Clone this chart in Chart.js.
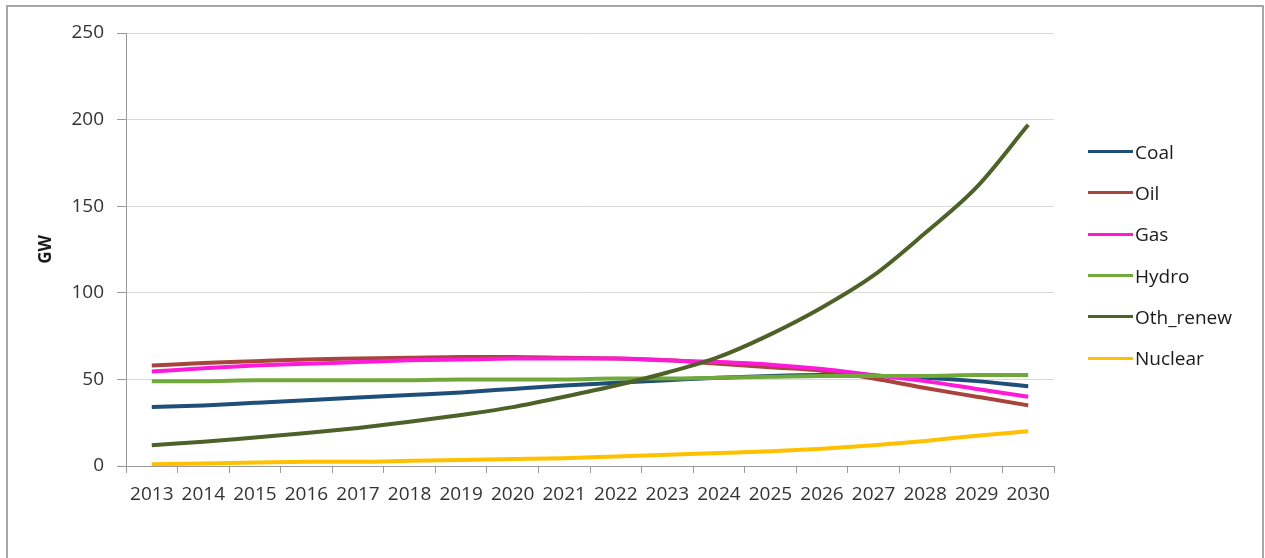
<!DOCTYPE html>
<html lang="en">
  <head>
    <meta charset="UTF-8">
    <title>GW by source</title>
    <script src="https://cdn.jsdelivr.net/npm/chart.js"></script>
    <style>
      body {
        margin: 0;
        background-color: #ffffff;
        font-family: "Open Sans", sans-serif;
        overflow: hidden;
      }
      #frame {
        position: absolute;
        left: 6px;
        top: 5px;
        width: 1254px;
        height: 570px;
        border: 2px solid #a6a6a6;
      }
      #chart {
        position: absolute;
        left: 0;
        top: 0;
      }
      #legend {
        position: absolute;
        left: 1088px;
        top: 131px;
      }
      .item {
        display: flex;
        align-items: center;
        height: 41.3px;
        font-size: 19px;
        color: #1a1a1a;
      }
      .swatch {
        width: 45px;
        height: 3px;
        margin-right: 2px;
      }
    </style>
  </head>
  <body>
    <div id="frame"></div>
    <canvas id="chart" width="1265" height="558"></canvas>
    <div id="legend"></div>

    <script>
      const years = ["2013", "2014", "2015", "2016", "2017", "2018", "2019", "2020", "2021",
        "2022", "2023", "2024", "2025", "2026", "2027", "2028", "2029", "2030"];

      const coal = [34, 35, 36.5, 38, 39.5, 41, 42.5, 44.5, 46.5, 48, 49.5, 51, 52, 52.5, 52, 51, 49, 46];
      const oil = [58, 59.5, 60.5, 61.5, 62, 62.5, 63, 63, 62.5, 62, 61, 59, 57, 55, 50.5, 45, 40, 35];
      const gas = [54.5, 56.5, 58, 59, 60, 61, 61.5, 62, 62, 62, 61, 60, 58.5, 56, 52.5, 49, 44.5, 40];
      const hydro = [49, 49, 49.5, 49.5, 49.5, 49.5, 50, 50, 50, 50.5, 50.5, 51, 51.5, 52, 52, 52, 52.5, 52.5];
      const othRenew = [12, 14, 16.5, 19, 22, 25.5, 29.5, 34, 40, 46.5, 54, 63, 76, 91.5, 110, 134.5, 161, 197];
      const nuclear = [1, 1.5, 2, 2.5, 2.5, 3, 3.5, 4, 4.5, 5.5, 6.5, 7.5, 8.5, 10, 12, 14.5, 17.5, 20];

      const seriesNames = ["Coal", "Oil", "Gas", "Hydro", "Oth_renew", "Nuclear"];
      const seriesData = [coal, oil, gas, hydro, othRenew, nuclear];
      const seriesColors = ["#1f4e79", "#a9443d", "#ff1ad9", "#71a83c", "#4e6128", "#ffc000"];

      const yTicks = [0, 50, 100, 150, 200, 250];

      // Excel draws later series on top, so reverse Chart.js order
      const datasets = seriesNames.map((name, i) => ({
        label: name,
        data: seriesData[i],
        borderColor: seriesColors[i],
        backgroundColor: seriesColors[i],
        borderWidth: 4,
        pointRadius: 0,
        cubicInterpolationMode: "monotone",
        fill: false,
        order: seriesNames.length - i,
      }));

      const tickFont = { family: "Open Sans", size: 19 };

      new Chart(document.getElementById("chart").getContext("2d"), {
        type: "line",
        data: { labels: years, datasets: datasets },
        options: {
          responsive: false,
          animation: false,
          layout: { padding: { left: 0, top: 33, right: 211, bottom: 0 } },
          plugins: {
            legend: { display: false },
            tooltip: { enabled: false },
          },
          scales: {
            x: {
              offset: true,
              grid: {
                offset: true,
                drawOnChartArea: false,
                tickLength: 7,
                tickColor: "#999999",
              },
              border: { color: "#999999", width: 1 },
              ticks: {
                font: tickFont,
                color: "#333333",
                padding: 10,
                maxRotation: 0,
                autoSkip: false,
              },
              afterFit: (scale) => { scale.height = 92; },
            },
            y: {
              min: 0,
              max: 250,
              afterBuildTicks: (scale) => {
                scale.ticks = yTicks.map((v) => ({ value: v }));
              },
              grid: {
                color: "#d9d9d9",
                tickLength: 9,
                tickColor: "#999999",
              },
              border: { color: "#999999", width: 1 },
              ticks: {
                font: tickFont,
                color: "#333333",
                padding: 13,
              },
              title: {
                display: true,
                text: "GW",
                color: "#1a1a1a",
                font: { family: "Open Sans", size: 17, weight: "bold" },
                padding: { top: 36, bottom: 0 },
              },
              afterFit: (scale) => { scale.width = 126; },
            },
          },
        },
      });

      const legend = document.getElementById("legend");
      seriesNames.forEach((name, i) => {
        const item = document.createElement("div");
        item.className = "item";
        const swatch = document.createElement("span");
        swatch.className = "swatch";
        swatch.style.background = seriesColors[i];
        const label = document.createElement("span");
        label.textContent = name;
        item.appendChild(swatch);
        item.appendChild(label);
        legend.appendChild(item);
      });
    </script>
  </body>
</html>
